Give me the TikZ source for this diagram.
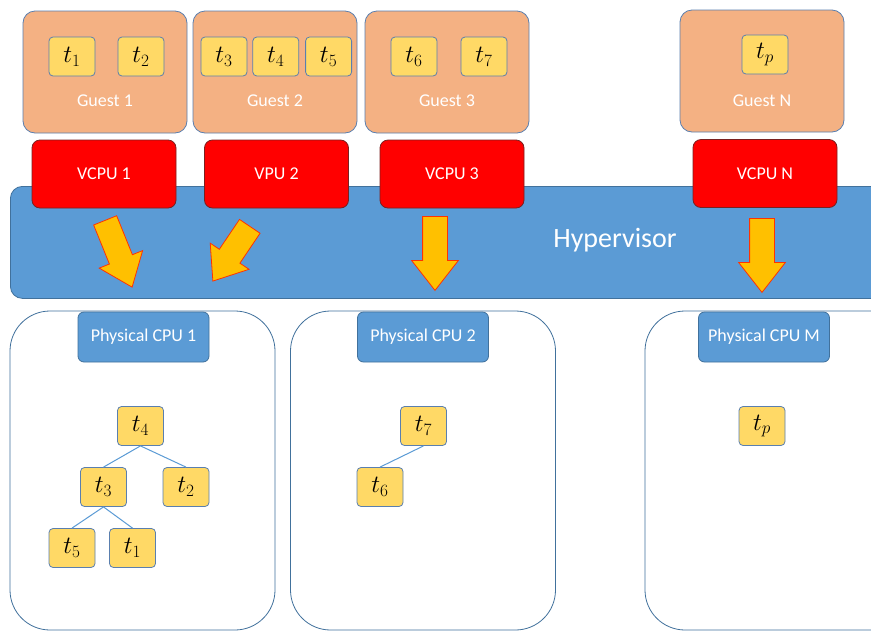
\documentclass[tikz,border=0pt]{standalone}
\usepackage{fontspec}
\setmainfont{Carlito}
\usetikzlibrary{shapes.arrows,positioning}

\definecolor{guestfill}{HTML}{F4B183}
\definecolor{taskfill}{HTML}{FFD966}
\definecolor{boxline}{HTML}{5A7FAF}
\definecolor{hyperfill}{HTML}{5B9BD5}
\definecolor{hyperline}{HTML}{41719C}
\definecolor{vcpuline}{HTML}{7A2020}
\definecolor{arrfill}{HTML}{FFC000}
\definecolor{arrline}{HTML}{FF3300}

\begin{document}
\begin{tikzpicture}[
    x=1pt, y=-1pt,
    guest/.style={draw=boxline, fill=guestfill, rounded corners=12pt, minimum width=164pt, minimum height=122pt, line width=0.8pt},
    gname/.style={text=white, font=\fontsize{18}{20}\selectfont},
    task/.style={draw=boxline, fill=taskfill, rounded corners=4pt, minimum width=46pt, minimum height=39pt, inner sep=0pt, line width=0.8pt, font=\fontsize{25}{27}\selectfont},
    vcpu/.style={draw=vcpuline, fill=red, rounded corners=8pt, minimum width=144pt, minimum height=68pt, text=white, line width=0.8pt, font=\fontsize{18}{20}\selectfont},
    hyper/.style={draw=hyperline, fill=hyperfill, rounded corners=12pt, line width=0.8pt},
    bigarrow/.style={single arrow, draw=arrline, fill=arrfill, inner xsep=0pt, inner ysep=12pt, single arrow head extend=11pt, single arrow tip angle=76, line width=0.8pt, anchor=tail},
    pcpu/.style={draw=hyperline, fill=white, rounded corners=40pt, minimum width=265pt, minimum height=319pt, line width=0.8pt},
    plabel/.style={draw=hyperline, fill=hyperfill, rounded corners=6pt, minimum width=131pt, minimum height=50pt, text=white, line width=0.8pt, font=\fontsize{18}{20}\selectfont},
    tedge/.style={draw=hyperfill, line width=1pt}
]
\useasboundingbox (0,0) rectangle (871,633);
\fill[white] (0,0) rectangle (871,633);
\clip (0,0) rectangle (871,633);

% hypervisor bar
\node[hyper, minimum width=900pt, minimum height=112pt, anchor=north west] (hv) at (10,186) {};
\node[text=white, font=\fontsize{28}{30}\selectfont] (hvname) at (615,240) {Hypervisor};

% guests
\node[guest] (guest1) at (105,72) {};
\node[guest] (guest2) at (275,72) {};
\node[guest] (guest3) at (447,72) {};
\node[guest] (guestn) at (762,71) {};
\node[gname] at ([yshift=-29pt]guest1.center) {Guest 1};
\node[gname] at ([yshift=-29pt]guest2.center) {Guest 2};
\node[gname] at ([yshift=-29pt]guest3.center) {Guest 3};
\node[gname] at ([yshift=-30pt]guestn.center) {Guest N};

\node[task] (g1t1) at (72,56.5) {$t_1$};
\node[task] (g1t2) at (141,56.5) {$t_2$};
\node[task] (g2t3) at (224,56.5) {$t_3$};
\node[task, right=5pt of g2t3] (g2t4) {$t_4$};
\node[task, right=6pt of g2t4] (g2t5) {$t_5$};
\node[task] (g3t6) at (414,56.5) {$t_6$};
\node[task] (g3t7) at (484,56.5) {$t_7$};
\node[task] (gntp) at (765,54.5) {$t_p$};

% virtual cpus
\node[vcpu] (vcpu1) at (104,174) {VCPU 1};
\node[vcpu] (vcpu2) at (276.5,174) {VPU 2};
\node[vcpu] (vcpu3) at (452,174) {VCPU 3};
\node[vcpu] (vcpun) at (765,173.5) {VCPU N};

% mapping arrows
\node[bigarrow, minimum height=72pt, rotate=-68] (ar1) at (105,220) {};
\node[bigarrow, minimum height=66pt, rotate=-124] (ar2) at (250,226) {};
\node[bigarrow, minimum height=74pt, rotate=-90] (ar3) at (435,216) {};
\node[bigarrow, minimum height=74pt, rotate=-90] (arn) at (762,218) {};

% physical cpus
\node[pcpu] (pcpu1) at (142.5,470.5) {};
\node[pcpu] (pcpu2) at (423,470.5) {};
\node[pcpu] (pcpum) at (777.5,470.5) {};
\node[plabel] (plbl1) at (143.5,337) {Physical CPU 1};
\node[plabel] (plbl2) at (423,337) {Physical CPU 2};
\node[plabel] (plblm) at (764,337) {Physical CPU M};

% run queues
\node[task] (c1t4) at (140.5,426) {$t_4$};
\node[task] (c1t3) at (103.5,487) {$t_3$};
\node[task] (c1t2) at (186,487) {$t_2$};
\node[task] (c1t5) at (72,548) {$t_5$};
\node[task] (c1t1) at (132.5,548) {$t_1$};
\node[task] (c2t7) at (423.5,426) {$t_7$};
\node[task] (c2t6) at (380,487) {$t_6$};
\node[task] (cmtp) at (762,426) {$t_p$};

\draw[tedge] (c1t4.south) -- (c1t3.north);
\draw[tedge] (c1t4.south) -- (c1t2.north);
\draw[tedge] (c1t3.south) -- (c1t5.north);
\draw[tedge] (c1t3.south) -- (c1t1.north);
\draw[tedge] (c2t7.south) -- (c2t6.north);
\end{tikzpicture}
\end{document}
